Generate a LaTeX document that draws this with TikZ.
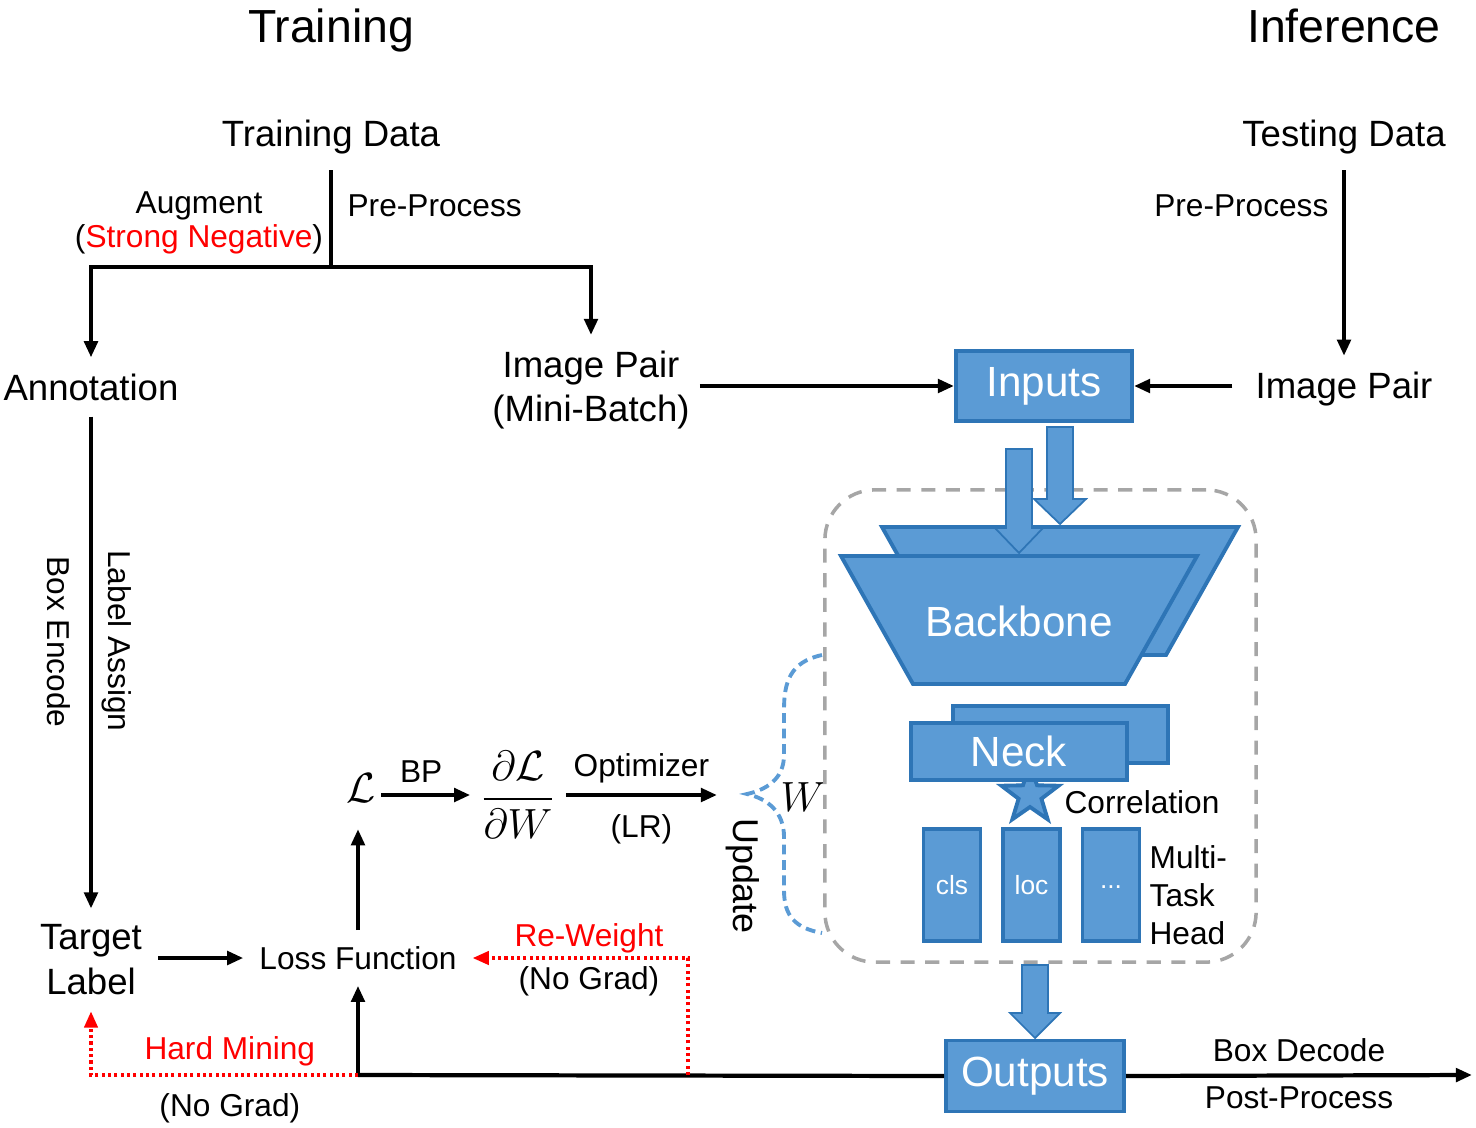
\documentclass[tikz,border=0pt]{standalone}
\usepackage{fontspec}
\setmainfont{Liberation Sans}
\usepackage{amsmath}
\usepackage{amssymb}
\usepackage{tikz}
\usetikzlibrary{calc, positioning, arrows.meta, shapes.geometric}

\definecolor{blockblue}{RGB}{91,155,213}
\definecolor{edgeblue}{RGB}{46,117,182}
\definecolor{dashgray}{RGB}{166,166,166}

\begin{document}
\begin{tikzpicture}[x=0.01cm, y=-0.01cm, >={Triangle[length=4.6pt,width=3.8pt]}, line width=1.2pt,
	title/.style={font=\fontsize{13.2}{15}\selectfont, inner sep=0pt, anchor=base},
	big/.style={font=\fontsize{10.4}{12.4}\selectfont, align=center, inner sep=4pt},
	lab/.style={font=\fontsize{9}{9.6}\selectfont, align=center, inner sep=1pt},
	bluebox/.style={draw=edgeblue, fill=blockblue, line width=1.1pt, text=white, font=\fontsize{12}{14}\selectfont, inner sep=0pt},
	headbox/.style={bluebox, minimum width=0.57cm, minimum height=1.12cm, font=\fontsize{7.5}{9}\selectfont},
	blockarrow/.style={draw=edgeblue, fill=blockblue, line width=0.5pt},
	nograd/.style={red, line width=0.9pt, dash pattern=on 0.9pt off 0.9pt}]
		\useasboundingbox (0,0) rectangle (1476,1127);

		\node[title] (trainhead) at (331,42) {Training};
		\node[title] (inferhead) at (1344,42) {Inference};

		\node[big] (traindata) at (331,137) {Training Data};
		\node[big] (testdata) at (1344,137) {Testing Data};
		\node[big] (annot) at (91,387) {Annotation};
		\node[big] (trainpair) at (591,390) {Image Pair\\(Mini-Batch)};
		\node[big] (testpair) at (1344,389) {Image Pair};
		\node[big, font=\fontsize{10.4}{12.8}\selectfont] (target) at (91,960) {Target\\Label};
		\node[lab, inner sep=4pt] (loss) at (358,958) {Loss Function};
		\node[inner xsep=1pt, inner ysep=7pt, font=\fontsize{13}{15}\selectfont] (L) at (361,788) {$\mathcal{L}$};
		\node[inner sep=2pt, font=\fontsize{11.5}{14}\selectfont] (dLdW) at (518,795) {$\dfrac{\partial\mathcal{L}}{\partial W}$};
		\coordinate (optend) at (717,795);

		\coordinate (trainsplit) at (331,267);
		\draw (traindata.south) -- (trainsplit);
		\draw[->] (trainsplit) -| (annot.north);
		\draw[->] (trainsplit) -| (trainpair.north);
		\node[lab] (augment) at (199,223) {Augment\\(\textcolor{red}{Strong Negative})};
		\node[lab, anchor=west] (trainpre) at (342,206) {Pre-Process};

		\draw[->] (testdata.south) -- (testpair.north);
		\node[lab, anchor=east] (testpre) at (1334,206) {Pre-Process};

		\node[bluebox, minimum width=1.76cm, minimum height=0.70cm] (inputs) at (1044,386) {Inputs};
		\draw[->] ([xshift=-1.7pt]trainpair.east |- inputs.west) -- (inputs.west);
		\draw[->] ([xshift=-2pt]testpair.west |- inputs.east) -- (inputs.east);

		\draw[->] (annot.south) -- (target.north);
		\node[lab, rotate=-90] (boxenc) at (59,642) {Box Encode};
		\node[lab, rotate=-90] (labassign) at (117,641) {Label Assign};

		\draw[->] (target.east |- loss.west) -- (loss.west);
		\draw[->] (loss.north) -- (loss.north |- L.south);
		\draw[->] (L.east |- dLdW.west) -- node[lab, above=2pt, pos=0.45] {BP} (dLdW.west);
		\draw[->] (dLdW.east) -- node[lab, above=1.7pt] {Optimizer} node[lab, below=4pt] {(LR)} (optend);

		\draw[blockblue, line width=1.1pt, dash pattern=on 2.8pt off 1.6pt]
		(822,655) .. controls (790,662) and (784,682) .. (784,710) -- (784,755)
		.. controls (784,780) and (765,790) .. (747,794)
		.. controls (768,799) and (784,812) .. (784,837) -- (784,890)
		.. controls (784,916) and (795,928) .. (822,933);
		\node[font=\fontsize{12.5}{15}\selectfont, inner sep=0pt] (W) at (803,797) {$W$};
		\node[lab, font=\fontsize{10.2}{11}\selectfont, rotate=-90] (update) at (743,876) {Update};

		\node[draw=dashgray, line width=1pt, dash pattern=on 4pt off 3pt, rounded corners=0.5cm, minimum width=4.31cm, minimum height=4.72cm] (model) at (1040.5,726) {};

		\draw[bluebox] (882,527) -- (1238,527) -- (1166,655) -- (954,655) -- cycle;
		\draw[blockarrow] (1047,427) -- (1073,427) -- (1073,499) -- (1086,499) -- (1060,524) -- (1034,499) -- (1047,499) -- cycle;
		\draw[blockarrow] (1006,449) -- (1032,449) -- (1032,528) -- (1043,528) -- (1019,553) -- (995,528) -- (1006,528) -- cycle;
		\draw[bluebox] (841,556) -- (1197,556) -- (1125,684) -- (913,684) -- cycle;
		\node[text=white, font=\fontsize{12}{14}\selectfont] (backbone) at (1019,621) {Backbone};

		\node[star, star points=5, star point ratio=2.5, minimum size=0.6cm, inner sep=0pt, draw=edgeblue, fill=blockblue, line width=1.1pt] (corr) at (1030,795) {};
		\draw[bluebox] (953,706) rectangle (1168,763);
		\node[bluebox, minimum width=2.16cm, minimum height=0.57cm] (neck) at (1019,751.5) {Neck};
		\node[lab, anchor=west] (corrlabel) at (1059,802) {Correlation};

		\node[headbox] (cls) at (952,885) {cls};
		\node[headbox] (loc) at (1031.5,885) {loc};
		\node[headbox] (more) at (1111,885) {\raisebox{-2pt}{...}};
		\node[lab, anchor=west, align=left, font=\fontsize{9}{10.8}\selectfont] (mth) at (1144,895) {Multi-\\Task\\Head};

		\draw[blockarrow] (1022,965) -- (1048,965) -- (1048,1013) -- (1060,1013) -- (1035,1038) -- (1010,1013) -- (1022,1013) -- cycle;
		\node[bluebox, minimum width=1.78cm, minimum height=0.71cm] (outputs) at (1035,1076) {Outputs};

		\coordinate (lossfoot) at (358,1075);
		\coordinate (hardfoot) at (91,1075);
		\coordinate (reweightfoot) at (688,1075);
		\coordinate (outend) at (1472,1075);

		\draw (outputs.west) -- (lossfoot);
		\draw[->] (lossfoot) -- (loss.south);
		\draw[->] (outputs.east) -- node[lab, above=2.2pt] {Box Decode} node[lab, below=1.6pt] {Post-Process} (outend);

		\draw[nograd, ->] (lossfoot) -- node[lab, above=1.2pt, pos=0.48, text=red] {Hard Mining} node[lab, below=3.7pt, pos=0.48, text=black] {(No Grad)} (hardfoot) -- (target.south);
		\draw[nograd, ->] (reweightfoot) |- node[lab, pos=0.73, above=0pt, text=red] {Re-Weight} node[lab, pos=0.73, below=1pt, text=black] {(No Grad)} (loss.east);

	\end{tikzpicture}
\end{document}
